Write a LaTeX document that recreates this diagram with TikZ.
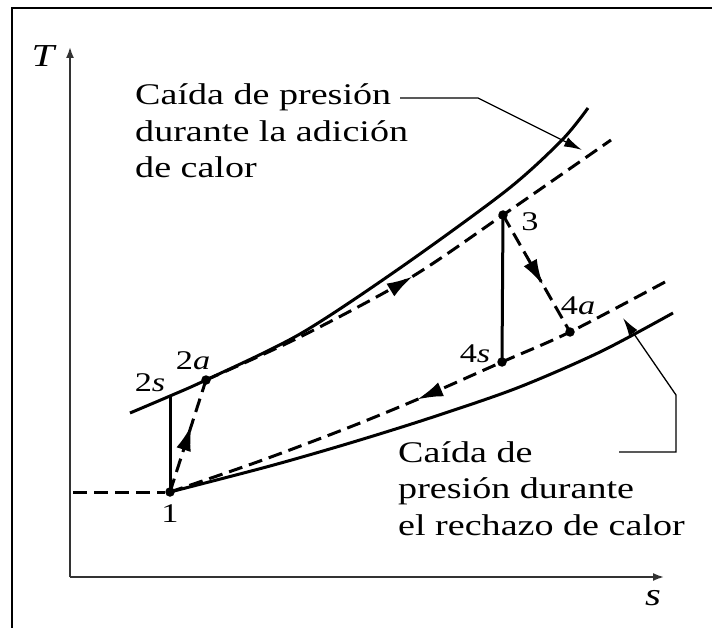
\documentclass[tikz,border=0pt]{standalone}
\usepackage{fontspec}
\setmainfont{Liberation Serif}[FakeStretch=1.27]
\usetikzlibrary{arrows.meta,decorations.markings}

\begin{document}
\begin{tikzpicture}[x=1pt, y=-1pt, >={Latex[length=11pt,width=8pt]},
  every node/.style={font=\fontsize{30}{36.5}\selectfont},
  dot/.style={circle, fill, inner sep=0pt, minimum size=9.5pt},
  ptlabel/.style={font=\fontsize{27}{28}\selectfont, inner sep=0pt},
  axislabel/.style={font=\fontsize{32}{34}\selectfont\itshape, inner sep=0pt},
  isobar/.style={line width=3pt},
  process/.style={line width=3pt, dash pattern=on 14pt off 7pt},
  axis/.style={line width=1.8pt, black!80},
  leader/.style={line width=1.3pt, -{Latex[length=18pt,width=10pt]}},
  midarrow/.style={postaction={decorate}, decoration={markings, mark=at position #1 with {\arrow{Latex[length=26pt,width=15pt]}}}}]
\useasboundingbox (0,0) rectangle (712,628);
\draw[line width=1.8pt] (12,640) -- (12,8) -- (720,8);

% axes
\coordinate (O) at (70,577);
\coordinate (Ttop) at (70,47);
\coordinate (sEnd) at (664,577);
\draw[axis,->] (O) -- (Ttop);
\draw[axis,->] (O) -- (sEnd);
\node[axislabel] (Tlbl) at (43,56) {T};
\node[axislabel] (slbl) at (653,598) {s};

% state points
\node[dot] (p1) at (170,492) {};
\coordinate (p2s) at (170,396);
\node[dot] (p2a) at (206,380) {};
\node[dot] (p3) at (503,215) {};
\node[dot] (p4s) at (502,362) {};
\node[dot] (p4a) at (570,332) {};

\node[ptlabel] (l1) at (170,514) {1};
\node[ptlabel] (l2s) at (150,383) {2\textit{s}};
\node[ptlabel] (l2a) at (193,361) {2\textit{a}};
\node[ptlabel] (l3) at (530,222) {3};
\node[ptlabel] (l4s) at (475,354) {4\textit{s}};
\node[ptlabel] (l4a) at (578,306) {4\textit{a}};

% isobars
\draw[isobar] plot[smooth] coordinates {(130,413) (p2s) (p2a.center) (300,334) (400,268) (507,190) (562,140) (588,108)};
\draw[isobar] plot[smooth] coordinates {(p1.center) (270,466) (350,443) (430,418) (517,388) (600,352) (673,313)};

% actual process lines
\coordinate (tleft) at (73,492);
\coordinate (hiEnd) at (611,140);
\coordinate (loEnd) at (665,282);
\draw[process] (tleft) -- (p1);
\draw[process, midarrow=0.49] plot[smooth] coordinates {(p2a.center) (300,337) (410,278) (p3.center) (hiEnd)};
\draw[process, midarrow=0.51] plot[smooth] coordinates {(loEnd) (p4a.center) (p4s.center) (423,397) (350,427) (260,461) (p1.center)};
\draw[process, midarrow=0.6] (p1.center) -- (p2a.center);
\draw[process, midarrow=0.6] (p3.center) -- (p4a.center);

% isentropic lines
\draw[isobar] (p1.center) -- (p2s);
\draw[isobar] (p3.center) -- (p4s.center);

% labels with leaders
\node[anchor=base west, align=left, inner sep=0pt] (addlbl) at (135,178) {Caída de presión\\durante la adición\\de calor};
\node[anchor=base west, align=left, inner sep=0pt] (rejlbl) at (398,535) {Caída de\\presión durante\\el rechazo de calor};
\coordinate (addStart) at (400,98);
\coordinate (addTip) at (582,150);
\coordinate (rejStart) at (619,452);
\coordinate (rejTip) at (623,318);
\draw[leader] (addStart) -- (478,98) -- (addTip);
\draw[leader] (rejStart) -- (676,452) -- (676,395) -- (rejTip);
\end{tikzpicture}
\end{document}
